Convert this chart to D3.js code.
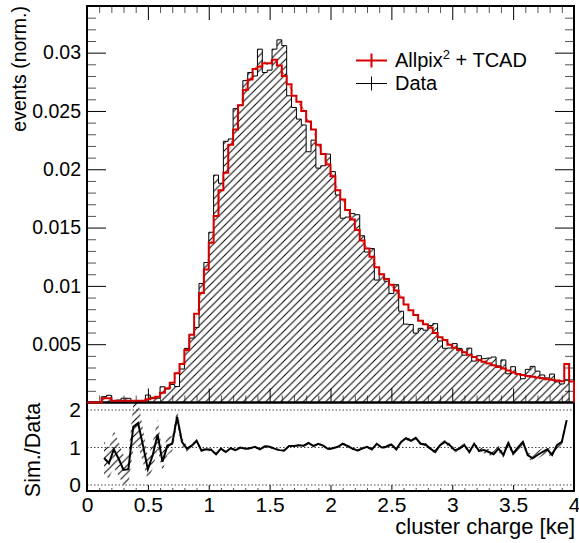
<!DOCTYPE html>
<html>
<head>
<meta charset="utf-8">
<script src="https://cdn.jsdelivr.net/npm/d3@7"></script>
<style>
    body { margin: 0; background: #fff; }
    svg { font-family: "Liberation Sans", Arial, Helvetica, sans-serif; }
</style>
</head>
<body>
<div id="chart"></div>
<script>
'use strict';

/* globals d3 */

// 100 bins of 0.04 ke between 0 and 4 ke
var BIN_WIDTH = 0.04;
var X_MIN = 0;
var X_MAX = 4;

// Allpix^2 + TCAD (normalised)
var simValues = [
    0, 0, 0, 0.00036, 0.00036, 0.00015, 0.00015, 0.00015, 0.00015, 0.00015,
    0.00016, 0.00015, 0.00027, 0.00036, 0.00050, 0.00084, 0.00122, 0.00170, 0.00250, 0.00330,
    0.00450, 0.00580, 0.00760, 0.00940, 0.01140, 0.01370, 0.01600, 0.01820, 0.01970, 0.02210,
    0.02340, 0.02550, 0.02680, 0.02770, 0.02860, 0.02880, 0.02910, 0.02910, 0.02940, 0.02890,
    0.02800, 0.02730, 0.02630, 0.02580, 0.02500, 0.02410, 0.02340, 0.02210, 0.02130, 0.02040,
    0.01940, 0.01820, 0.01740, 0.01650, 0.01570, 0.01480, 0.01390, 0.01320, 0.01250, 0.01160,
    0.01100, 0.01060, 0.01010, 0.00960, 0.00900, 0.00840, 0.00790, 0.00750, 0.00700, 0.00670,
    0.00640, 0.00595, 0.00560, 0.00535, 0.00495, 0.00470, 0.00450, 0.00430, 0.00410, 0.00390,
    0.00365, 0.00350, 0.00335, 0.00320, 0.00305, 0.00292, 0.00275, 0.00258, 0.00245, 0.00235,
    0.00227, 0.00220, 0.00215, 0.00208, 0.00200, 0.00195, 0.00188, 0.00183, 0.00330, 0.00180
];

var simErrors = [
    0, 0, 0, 0.00004, 0.00004, 0.00004, 0.00004, 0.00004, 0.00004, 0.00004,
    0.00004, 0.00004, 0.00004, 0.00004, 0.00004, 0.00007, 0.00007, 0.00007, 0.00007, 0.00007,
    0.0001, 0.0001, 0.0001, 0.0001, 0.0001, 0.00016, 0.00016, 0.00016, 0.00016, 0.00016,
    0.00016, 0.00016, 0.00016, 0.00016, 0.00016, 0.00016, 0.00016, 0.00016, 0.00016, 0.00016,
    0.00016, 0.00016, 0.00016, 0.00016, 0.00016, 0.00016, 0.00016, 0.00016, 0.00016, 0.00016,
    0.00016, 0.00013, 0.00013, 0.00013, 0.00013, 0.00013, 0.00013, 0.00013, 0.00013, 0.00013,
    0.00013, 0.00013, 0.00013, 0.00013, 0.00013, 0.00013, 0.00013, 0.00013, 0.00013, 0.00013,
    0.00013, 0.0001, 0.0001, 0.0001, 0.0001, 0.0001, 0.0001, 0.0001, 0.0001, 0.0001,
    0.0001, 0.0001, 0.0001, 0.0001, 0.0001, 0.0001, 0.0001, 0.0001, 0.0001, 0.0001,
    0.0001, 0.0001, 0.0001, 0.0001, 0.0001, 0.0001, 0.0001, 0.0001, 0.0001, 0.0001
];

// Data (normalised)
var dataValues = [
    0, 0, 0, 0.00050, 0.00062, 0.00016, 0.00021, 0.00037, 0.00036, 0.00010,
    0.00010, 0.00014, 0.00064, 0.00045, 0.00037, 0.00135, 0.00116, 0.00155, 0.00137, 0.00287,
    0.00464, 0.00552, 0.00644, 0.01020, 0.01200, 0.01460, 0.01950, 0.01880, 0.02240, 0.02260,
    0.02520, 0.02550, 0.02760, 0.02830, 0.02800, 0.03030, 0.02830, 0.02850, 0.03030, 0.03110,
    0.03060, 0.02630, 0.02530, 0.02430, 0.02380, 0.02150, 0.02250, 0.02010, 0.02030, 0.02130,
    0.01980, 0.01780, 0.01580, 0.01590, 0.01620, 0.01610, 0.01430, 0.01290, 0.01320, 0.01050,
    0.01100, 0.01040, 0.00935, 0.01010, 0.00783, 0.00672, 0.00669, 0.00595, 0.00636, 0.00620,
    0.00660, 0.00676, 0.00528, 0.00465, 0.00467, 0.00505, 0.00464, 0.00406, 0.00466, 0.00355,
    0.00401, 0.00376, 0.00381, 0.00390, 0.00314, 0.00365, 0.00246, 0.00307, 0.00245, 0.00204,
    0.00284, 0.00310, 0.00269, 0.00236, 0.00211, 0.00244, 0.00177, 0.00159, 0.00191, 0
];

// Sim./Data, one point per bin starting at bin 3
var ratioFirstBin = 3;
var ratioValues = [
    0.72, 0.58, 0.95, 0.70, 0.40, 0.42, 1.55, 1.65, 1.05, 0.42,
    0.80, 1.35, 0.62, 1.05, 1.10, 1.82, 1.15, 0.97, 1.05, 1.18,
    0.92, 0.95, 0.94, 0.82, 0.97, 0.88, 0.98, 0.93, 1.00, 0.97,
    0.98, 1.02, 0.95, 1.03, 1.02, 0.97, 0.93, 0.92, 1.04, 1.04,
    1.06, 1.05, 1.12, 1.04, 1.10, 1.05, 0.96, 0.98, 1.02, 1.10,
    1.04, 0.97, 0.92, 0.97, 1.02, 0.95, 1.10, 1.00, 1.02, 1.08,
    0.95, 1.15, 1.25, 1.18, 1.26, 1.10, 1.08, 0.97, 0.88, 1.06,
    1.15, 1.06, 0.93, 0.97, 1.06, 0.88, 1.10, 0.91, 0.93, 0.88,
    0.82, 0.97, 0.80, 1.12, 0.84, 1.00, 1.15, 0.80, 0.71, 0.80,
    0.88, 0.95, 0.80, 1.06, 1.15, 1.73
];
var ratioErrors = [
    0.45, 0.40, 0.50, 0.45, 0.40, 0.40, 0.60, 0.60, 0.45, 0.30,
    0.35, 0.40, 0.25, 0.25, 0.20, 0.22, 0.12, 0.08, 0.06, 0.06,
    0.05, 0.04, 0.04, 0.03, 0.03, 0.03, 0.03, 0.03, 0.03, 0.03,
    0.03, 0.03, 0.03, 0.03, 0.03, 0.03, 0.03, 0.03, 0.03, 0.03,
    0.03, 0.03, 0.03, 0.03, 0.03, 0.03, 0.03, 0.03, 0.035, 0.035,
    0.035, 0.035, 0.035, 0.035, 0.035, 0.035, 0.035, 0.035, 0.045, 0.045,
    0.045, 0.045, 0.045, 0.045, 0.045, 0.045, 0.045, 0.045, 0.06, 0.06,
    0.06, 0.06, 0.06, 0.06, 0.06, 0.06, 0.06, 0.06, 0.08, 0.08,
    0.08, 0.08, 0.08, 0.08, 0.08, 0.08, 0.08, 0.08, 0.10, 0.10,
    0.10, 0.10, 0.10, 0.10, 0.10, 0.12
];

var xTicks = [0, 0.5, 1, 1.5, 2, 2.5, 3, 3.5, 4];
var xTickLabels = ['0', '0.5', '1', '1.5', '2', '2.5', '3', '3.5', '4'];
var yTicks = [0.005, 0.01, 0.015, 0.02, 0.025, 0.03];
var yTickLabels = ['0.005', '0.01', '0.015', '0.02', '0.025', '0.03'];
var ratioTicks = [0, 1, 2];
var ratioTickLabels = ['0', '1', '2'];

var WIDTH = 579;
var HEIGHT = 543;
var PLOT_LEFT = 87;
var PLOT_RIGHT = 574;
var TOP_Y = 6;
var SPLIT_Y = 402.5;
var BOTTOM_Y = 491;
var SIM_COLOR = '#d40000';

var x = d3.scaleLinear().domain([X_MIN, X_MAX]).range([PLOT_LEFT, PLOT_RIGHT]);
var y = d3.scaleLinear().domain([0, 0.034]).range([SPLIT_Y, TOP_Y]);
var yRatio = d3.scaleLinear().domain([-0.16, 2.2]).range([BOTTOM_Y, SPLIT_Y]);

var svg = d3.select('#chart').append('svg')
    .attr('width', WIDTH)
    .attr('height', HEIGHT);

function addHatch(defs, id, color, backslash) {
    var s = 7.5;
    var d = backslash ?
        'M-1,' + (s - 1) + ' L1,' + (s + 1) + ' M0,0 L' + s + ',' + s + ' M' + (s - 1) + ',-1 L' + (s + 1) + ',1' :
        'M-1,1 L1,-1 M0,' + s + ' L' + s + ',0 M' + (s - 1) + ',' + (s + 1) + ' L' + (s + 1) + ',' + (s - 1);
    defs.append('pattern')
        .attr('id', id)
        .attr('patternUnits', 'userSpaceOnUse')
        .attr('width', s)
        .attr('height', s)
        .append('path')
        .attr('d', d)
        .attr('stroke', color)
        .attr('stroke-width', 1)
        .attr('fill', 'none');
}

function minorValues(step, lo, hi, majorStep) {
    var out = [];
    for (var v = lo; v <= hi + 1e-9; v += step) {
        var r = Math.round(v / step) * step;
        if (Math.abs(r / majorStep - Math.round(r / majorStep)) > 1e-6) {
            out.push(r);
        }
    }
    return out;
}

function cleanAxis(g) {
    g.attr('font-family', null).attr('font-size', null);
    g.select('.domain').remove();
}

function stepPoints(values) {
    var pts = [[X_MIN, 0]];
    values.forEach(function(v, i) {
        pts.push([i * BIN_WIDTH, v]);
    });
    pts.push([X_MAX, values[values.length - 1]]);
    pts.push([X_MAX, 0]);
    return pts;
}

var defs = svg.append('defs');
addHatch(defs, 'hatchData', '#000', false);
addHatch(defs, 'hatchSim', SIM_COLOR, true);
defs.append('clipPath').attr('id', 'clipTop')
    .append('rect')
    .attr('x', PLOT_LEFT).attr('y', TOP_Y)
    .attr('width', PLOT_RIGHT - PLOT_LEFT).attr('height', SPLIT_Y - TOP_Y);
defs.append('clipPath').attr('id', 'clipRatio')
    .append('rect')
    .attr('x', PLOT_LEFT).attr('y', SPLIT_Y)
    .attr('width', PLOT_RIGHT - PLOT_LEFT).attr('height', BOTTOM_Y - SPLIT_Y);

function renderAxes() {
    var xMinor = minorValues(0.1, 0, 4, 0.5);
    var yMinor = minorValues(0.001, 0.001, 0.034, 0.005);

    // top panel: left / right
    svg.append('g').attr('transform', 'translate(' + PLOT_LEFT + ',0)')
        .call(d3.axisLeft(y).tickValues(yMinor).tickSize(-9).tickFormat(''))
        .call(cleanAxis)
        .selectAll('line').attr('stroke', '#555');
    var yAxis = svg.append('g').attr('transform', 'translate(' + PLOT_LEFT + ',0)')
        .call(d3.axisLeft(y).tickValues(yTicks).tickSize(-19).tickPadding(6)
            .tickFormat(function(d, i) { return yTickLabels[i]; }))
        .call(cleanAxis);
    yAxis.selectAll('text').style('font-size', '19.5px').attr('fill', '#000');

    svg.append('g').attr('transform', 'translate(' + PLOT_RIGHT + ',0)')
        .call(d3.axisRight(y).tickValues(yMinor).tickSize(-9).tickFormat(''))
        .call(cleanAxis)
        .selectAll('line').attr('stroke', '#555');
    svg.append('g').attr('transform', 'translate(' + PLOT_RIGHT + ',0)')
        .call(d3.axisRight(y).tickValues(yTicks).tickSize(-19).tickFormat(''))
        .call(cleanAxis);

    // top panel: top / bottom
    svg.append('g').attr('transform', 'translate(0,' + TOP_Y + ')')
        .call(d3.axisTop(x).tickValues(xMinor).tickSize(-7).tickFormat(''))
        .call(cleanAxis)
        .selectAll('line').attr('stroke', '#555');
    svg.append('g').attr('transform', 'translate(0,' + TOP_Y + ')')
        .call(d3.axisTop(x).tickValues(xTicks).tickSize(-14).tickFormat(''))
        .call(cleanAxis);
    svg.append('g').attr('transform', 'translate(0,' + SPLIT_Y + ')')
        .call(d3.axisBottom(x).tickValues(xMinor).tickSize(-7).tickFormat(''))
        .call(cleanAxis)
        .selectAll('line').attr('stroke', '#555');
    svg.append('g').attr('transform', 'translate(0,' + SPLIT_Y + ')')
        .call(d3.axisBottom(x).tickValues(xTicks).tickSize(-14).tickFormat(''))
        .call(cleanAxis);

    // ratio panel
    svg.append('g').attr('transform', 'translate(0,' + BOTTOM_Y + ')')
        .call(d3.axisBottom(x).tickValues(xMinor).tickSize(-3).tickFormat(''))
        .call(cleanAxis)
        .selectAll('line').attr('stroke', '#555');
    var xAxis = svg.append('g').attr('transform', 'translate(0,' + BOTTOM_Y + ')')
        .call(d3.axisBottom(x).tickValues(xTicks).tickSize(-6).tickPadding(6)
            .tickFormat(function(d, i) { return xTickLabels[i]; }))
        .call(cleanAxis);
    xAxis.selectAll('text').style('font-size', '21px').attr('fill', '#000');

    var rAxis = svg.append('g').attr('transform', 'translate(' + PLOT_LEFT + ',0)')
        .call(d3.axisLeft(yRatio).tickValues(ratioTicks).tickSize(0).tickPadding(6)
            .tickFormat(function(d, i) { return ratioTickLabels[i]; }))
        .call(cleanAxis);
    rAxis.selectAll('text').style('font-size', '21px').attr('fill', '#000');

    svg.append('g').selectAll('line')
        .data(ratioTicks)
        .join('line')
        .attr('x1', PLOT_LEFT).attr('x2', PLOT_RIGHT)
        .attr('y1', function(d) { return yRatio(d); })
        .attr('y2', function(d) { return yRatio(d); })
        .attr('stroke', '#444')
        .attr('stroke-width', 1)
        .attr('stroke-dasharray', '1.5,2');
}

function renderFrames() {
    svg.append('rect')
        .attr('x', PLOT_LEFT).attr('y', TOP_Y)
        .attr('width', PLOT_RIGHT - PLOT_LEFT).attr('height', SPLIT_Y - TOP_Y)
        .attr('fill', 'none').attr('stroke', '#000').attr('stroke-width', 2);
    svg.append('rect')
        .attr('x', PLOT_LEFT).attr('y', SPLIT_Y)
        .attr('width', PLOT_RIGHT - PLOT_LEFT).attr('height', BOTTOM_Y - SPLIT_Y)
        .attr('fill', 'none').attr('stroke', '#000').attr('stroke-width', 2);
}

function renderHistograms() {
    var g = svg.append('g').attr('clip-path', 'url(#clipTop)');

    var dataPts = stepPoints(dataValues);
    var area = d3.area()
        .curve(d3.curveStepAfter)
        .x(function(d) { return x(d[0]); })
        .y0(y(0))
        .y1(function(d) { return y(d[1]); });
    var line = d3.line()
        .curve(d3.curveStepAfter)
        .x(function(d) { return x(d[0]); })
        .y(function(d) { return y(d[1]); });

    g.append('path')
        .attr('d', area(dataPts))
        .attr('fill', 'url(#hatchData)');
    g.append('path')
        .attr('d', line(dataPts))
        .attr('fill', 'none')
        .attr('stroke', '#000')
        .attr('stroke-width', 1);

    var band = [];
    simValues.forEach(function(v, i) {
        if (v > 0) {
            band.push([(i + 0.5) * BIN_WIDTH, v, simErrors[i]]);
        }
    });
    var bandArea = d3.area()
        .x(function(d) { return x(d[0]); })
        .y0(function(d) { return y(d[1] - d[2]); })
        .y1(function(d) { return y(d[1] + d[2]); });
    g.append('path')
        .attr('d', bandArea(band))
        .attr('fill', 'url(#hatchSim)');

    svg.append('path')
        .attr('d', line(stepPoints(simValues)))
        .attr('fill', 'none')
        .attr('stroke', SIM_COLOR)
        .attr('stroke-width', 2);
}

function renderRatio() {
    var g = svg.append('g').attr('clip-path', 'url(#clipRatio)');
    var pts = ratioValues.map(function(r, k) {
        return [(ratioFirstBin + k + 0.5) * BIN_WIDTH, r, ratioErrors[k]];
    });
    var band = d3.area()
        .x(function(d) { return x(d[0]); })
        .y0(function(d) { return yRatio(d[1] - d[2]); })
        .y1(function(d) { return yRatio(d[1] + d[2]); });
    g.append('path')
        .attr('d', band(pts))
        .attr('fill', 'url(#hatchData)');
    var line = d3.line()
        .x(function(d) { return x(d[0]); })
        .y(function(d) { return yRatio(d[1]); });
    g.append('path')
        .attr('d', line(pts))
        .attr('fill', 'none')
        .attr('stroke', '#000')
        .attr('stroke-width', 2)
        .attr('stroke-linejoin', 'miter');
}

function renderLegend() {
    var entries = [
        { color: SIM_COLOR, width: 2, y: 60.5, textY: 67 },
        { color: '#000', width: 1, y: 83.5, textY: 90 }
    ];
    entries.forEach(function(e) {
        svg.append('line')
            .attr('x1', 356).attr('x2', 387)
            .attr('y1', e.y).attr('y2', e.y)
            .attr('stroke', e.color).attr('stroke-width', e.width);
        svg.append('line')
            .attr('x1', 371.5).attr('x2', 371.5)
            .attr('y1', e.y - 7).attr('y2', e.y + 7)
            .attr('stroke', e.color).attr('stroke-width', e.width);
    });
    var t = svg.append('text')
        .attr('x', 395).attr('y', entries[0].textY)
        .style('font-size', '20px');
    t.append('tspan').text('Allpix');
    t.append('tspan').attr('dy', -8).style('font-size', '13px').text('2');
    t.append('tspan').attr('dy', 8).text(' + TCAD');
    svg.append('text')
        .attr('x', 395).attr('y', entries[1].textY)
        .style('font-size', '20px')
        .text('Data');
}

function renderTitles() {
    svg.append('text')
        .attr('transform', 'translate(26,6) rotate(-90)')
        .attr('text-anchor', 'end')
        .style('font-size', '19.5px')
        .text('events (norm.)');
    svg.append('text')
        .attr('transform', 'translate(39.5,450) rotate(-90)')
        .attr('text-anchor', 'middle')
        .style('font-size', '21.5px')
        .text('Sim./Data');
    svg.append('text')
        .attr('x', 575).attr('y', 534)
        .attr('text-anchor', 'end')
        .style('font-size', '22px')
        .text('cluster charge [ke]');
}

renderAxes();
renderFrames();
renderHistograms();
renderRatio();
renderLegend();
renderTitles();
</script>
</body>
</html>
